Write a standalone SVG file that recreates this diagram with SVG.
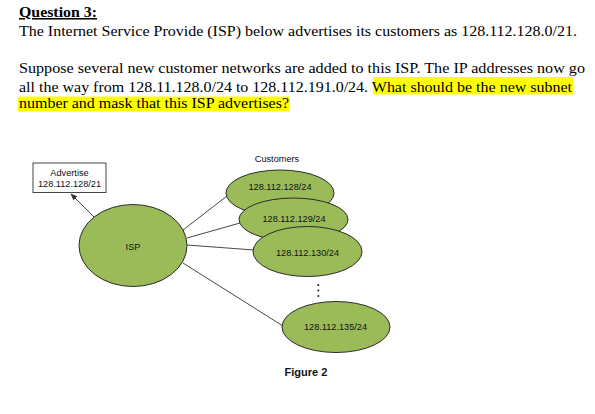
<svg xmlns="http://www.w3.org/2000/svg" width="595" height="414" viewBox="0 0 595 414">
<defs>
<style>
.q{font-family:"Liberation Serif","Times New Roman",serif;font-size:15.5px;fill:#000}
.lbl{font-family:"Liberation Sans",Arial,sans-serif;font-size:9.2px;fill:#111;text-anchor:middle}
.node{fill:#9BBB59;stroke:#2b2b2b;stroke-width:1}
.conn{stroke:#333;stroke-width:0.9;fill:none}
</style>
<marker id="ah" viewBox="0 0 10 10" refX="9" refY="5" markerWidth="7" markerHeight="7" orient="auto" markerUnits="userSpaceOnUse">
<path d="M0,1 L10,5 L0,9 z" fill="#333"/>
</marker>
</defs>
<rect width="595" height="414" fill="#fff"/>
<rect x="373" y="77" width="200" height="17.5" fill="#ffff00"/>
<rect x="18" y="96.5" width="272" height="15" fill="#ffff00"/>
<text class="q" x="19" y="17" font-weight="bold" text-decoration="underline" textLength="78" lengthAdjust="spacingAndGlyphs">Question 3:</text>
<text class="q" x="19" y="36" textLength="558" lengthAdjust="spacingAndGlyphs">The Internet Service Provide (ISP) below advertises its customers as 128.112.128.0/21.</text>
<text class="q" x="19" y="73" textLength="566" lengthAdjust="spacingAndGlyphs">Suppose several new customer networks are added to this ISP.  The IP addresses now go</text>
<text class="q" x="19" y="91.5" textLength="553" lengthAdjust="spacingAndGlyphs">all the way from 128.11.128.0/24 to 128.112.191.0/24. What should be the new subnet</text>
<text class="q" x="19" y="107.5" textLength="270" lengthAdjust="spacingAndGlyphs">number and mask that this ISP advertises?</text>
<g id="connectors">
<line class="conn" x1="95" y1="218" x2="71" y2="194" marker-end="url(#ah)"/>
<line class="conn" x1="183" y1="230" x2="227" y2="196"/>
<line class="conn" x1="187" y1="238" x2="240" y2="223"/>
<line class="conn" x1="187" y1="245" x2="254" y2="250"/>
<line class="conn" x1="183" y1="263" x2="283" y2="326"/>
</g>
<g id="advertise">
<rect x="33" y="163" width="73" height="29.5" fill="#fff" stroke="#333" stroke-width="0.9"/>
<text class="lbl" x="69.5" y="176">Advertise</text>
<text class="lbl" x="69.5" y="186.5">128.112.128/21</text>
</g>
<g id="isp">
<ellipse class="node" cx="133" cy="245.5" rx="54" ry="41"/>
<text class="lbl" x="133" y="250">ISP</text>
</g>
<text class="lbl" x="277" y="162">Customers</text>
<g id="c128">
<ellipse class="node" cx="280" cy="193" rx="54" ry="23"/>
<text class="lbl" x="280" y="190">128.112.128/24</text>
</g>
<g id="c129">
<ellipse class="node" cx="293.5" cy="219.5" rx="54.5" ry="21.5"/>
<text class="lbl" x="294" y="222">128.112.129/24</text>
</g>
<g id="c130">
<ellipse class="node" cx="307.5" cy="251.5" rx="54.5" ry="25"/>
<text class="lbl" x="307.5" y="255.5">128.112.130/24</text>
</g>
<g id="dots" fill="#222">
<circle cx="318.3" cy="285" r="1"/>
<circle cx="318.3" cy="290.5" r="1"/>
<circle cx="318.3" cy="296" r="1"/>
</g>
<g id="c135">
<ellipse class="node" cx="336" cy="327" rx="54" ry="25.5"/>
<text class="lbl" x="335.5" y="330">128.112.135/24</text>
</g>
<text x="306" y="375.5" font-family="'Liberation Sans',Arial,sans-serif" font-size="11" font-weight="bold" text-anchor="middle" fill="#111">Figure 2</text>
</svg>
